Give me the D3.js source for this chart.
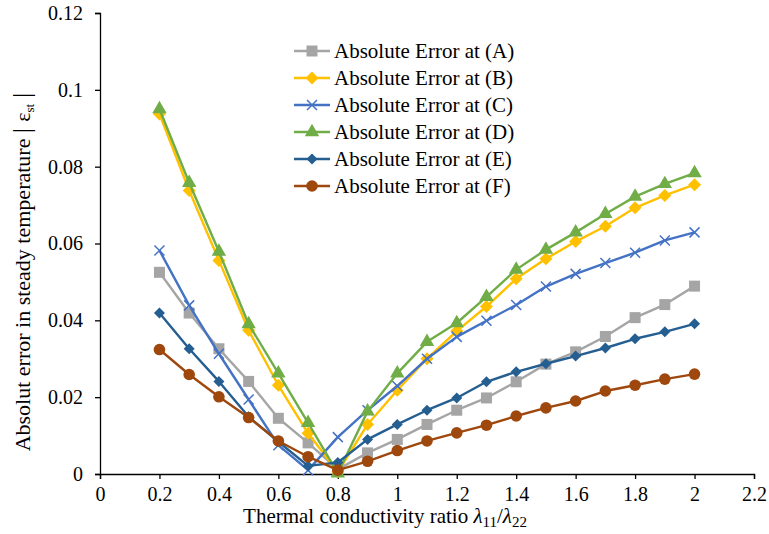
<!DOCTYPE html>
<html lang="en">
<head>
<meta charset="UTF-8">
<title>Absolute error chart</title>
<style>
    body { margin: 0; background: #fff; }
</style>
</head>
<body>
<svg id="chart" width="769" height="534"></svg>
<script src="https://d3js.org/d3.v7.min.js"></script>
<script>
// ratio values along the x axis
const ratios = [0.2, 0.3, 0.4, 0.5, 0.6, 0.7, 0.8, 0.9, 1.0, 1.1, 1.2, 1.3, 1.4, 1.5, 1.6, 1.7, 1.8, 1.9, 2.0];

const errA = [0.0525, 0.0419, 0.0326, 0.0241, 0.0145, 0.0081, 0.0012, 0.0055, 0.0090, 0.0129, 0.0166, 0.0198, 0.0240, 0.0286, 0.0318, 0.0358, 0.0407, 0.0441, 0.0489];
const errB = [0.0937, 0.0738, 0.0556, 0.0374, 0.0231, 0.0106, 0.0005, 0.0129, 0.0218, 0.0300, 0.0372, 0.0436, 0.0508, 0.0560, 0.0605, 0.0645, 0.0693, 0.0725, 0.0753];
const errC = [0.0582, 0.0439, 0.0313, 0.0194, 0.0075, 0.0010, 0.0096, 0.0166, 0.0229, 0.0300, 0.0357, 0.0399, 0.0440, 0.0488, 0.0521, 0.0549, 0.0576, 0.0608, 0.0629];
const errD = [0.0950, 0.0758, 0.0579, 0.0390, 0.0262, 0.0133, 0.0002, 0.0163, 0.0262, 0.0344, 0.0393, 0.0461, 0.0532, 0.0584, 0.0629, 0.0677, 0.0722, 0.0755, 0.0783];
const errE = [0.0419, 0.0326, 0.0241, 0.0149, 0.0084, 0.0021, 0.0030, 0.0090, 0.0129, 0.0166, 0.0198, 0.0240, 0.0266, 0.0287, 0.0307, 0.0328, 0.0352, 0.0370, 0.0391];
const errF = [0.0324, 0.0259, 0.0201, 0.0147, 0.0086, 0.0045, 0.0010, 0.0033, 0.0061, 0.0086, 0.0107, 0.0127, 0.0151, 0.0172, 0.0190, 0.0216, 0.0231, 0.0247, 0.0260];

const seriesNames = ["Absolute Error at (A)", "Absolute Error at (B)", "Absolute Error at (C)",
    "Absolute Error at (D)", "Absolute Error at (E)", "Absolute Error at (F)"];

const xTicks = [0, 0.2, 0.4, 0.6, 0.8, 1, 1.2, 1.4, 1.6, 1.8, 2, 2.2];
const yTicks = [0, 0.02, 0.04, 0.06, 0.08, 0.1, 0.12];

const series = [
    { name: seriesNames[0], values: errA, color: "#A5A5A5", marker: "square" },
    { name: seriesNames[1], values: errB, color: "#FFC000", marker: "diamond" },
    { name: seriesNames[2], values: errC, color: "#4472C4", marker: "cross" },
    { name: seriesNames[3], values: errD, color: "#70AD47", marker: "triangle" },
    { name: seriesNames[4], values: errE, color: "#255E91", marker: "diamondSmall" },
    { name: seriesNames[5], values: errF, color: "#9E480E", marker: "circle" }
];

const FONT = "'Liberation Serif'";

const svg = d3.select("#chart");
const margin = { left: 100, right: 15, top: 13, bottom: 60 };
const W = 769, H = 534;

const x = d3.scaleLinear().domain([0, 2.2]).range([margin.left, W - margin.right]);
const y = d3.scaleLinear().domain([0, 0.12]).range([H - margin.bottom, margin.top]);

// axes
const xAxis = svg.append("g")
    .attr("transform", `translate(0,${y(0)})`)
    .call(d3.axisBottom(x).tickValues(xTicks).tickFormat(d3.format("~g")).tickSizeOuter(0).tickSize(5).tickPadding(8));
const yAxis = svg.append("g")
    .attr("transform", `translate(${x(0)},0)`)
    .call(d3.axisLeft(y).tickValues(yTicks).tickFormat(d3.format("~g")).tickSizeOuter(0).tickSize(5).tickPadding(12));

[xAxis, yAxis].forEach(a => {
    a.selectAll("text").style("font-family", FONT).style("font-size", "20px").attr("fill", "#000");
    a.selectAll("path, line").attr("stroke", "#000").attr("stroke-width", 1.3);
});

// axis titles
const xt = svg.append("text")
    .attr("x", 385)
    .attr("y", 523)
    .attr("text-anchor", "middle")
    .style("font-family", FONT)
    .style("font-size", "21px");
xt.append("tspan").text("Thermal conductivity ratio ");
xt.append("tspan").attr("font-style", "italic").text("λ");
xt.append("tspan").attr("dy", 4).style("font-size", "15px").text("11");
xt.append("tspan").attr("dy", -4).text("/");
xt.append("tspan").attr("font-style", "italic").text("λ");
xt.append("tspan").attr("dy", 4).style("font-size", "15px").text("22");

const yt = svg.append("text")
    .attr("transform", "translate(30,272) rotate(-90)")
    .attr("text-anchor", "middle")
    .style("font-family", FONT)
    .style("font-size", "22px");
yt.append("tspan").text("Absolut error in steady temperature ");
yt.append("tspan").style("font-size", "25px").text("| ");
yt.append("tspan").text("ε");
yt.append("tspan").attr("dy", 4).style("font-size", "13px").text("st");
yt.append("tspan").attr("dy", -4).style("font-size", "25px").text(" |");

// marker drawing
function drawMarker(g, type, color) {
    if (type === "square") {
        g.append("rect").attr("x", -5.5).attr("y", -5.5).attr("width", 11).attr("height", 11).attr("fill", color);
    } else if (type === "diamond") {
        g.append("path").attr("d", "M0,-6.5L6.5,0L0,6.5L-6.5,0Z").attr("fill", color);
    } else if (type === "diamondSmall") {
        g.append("path").attr("d", "M0,-5.5L5.5,0L0,5.5L-5.5,0Z").attr("fill", color);
    } else if (type === "cross") {
        g.append("path").attr("d", "M-5,-5L5,5M-5,5L5,-5").attr("stroke", color).attr("stroke-width", 1.5).attr("fill", "none");
    } else if (type === "triangle") {
        g.append("path").attr("d", d3.symbol(d3.symbolTriangle, 90)()).attr("fill", color);
    } else if (type === "circle") {
        g.append("circle").attr("r", 5.8).attr("fill", color);
    }
}

const line = d3.line().x((d, i) => x(ratios[i])).y(d => y(d));

series.forEach(s => {
    const g = svg.append("g");
    g.append("path")
        .datum(s.values)
        .attr("d", line)
        .attr("fill", "none")
        .attr("stroke", s.color)
        .attr("stroke-width", 2.4)
        .attr("stroke-linejoin", "round");
    s.values.forEach((v, i) => {
        const m = g.append("g").attr("transform", `translate(${x(ratios[i])},${y(v)})`);
        drawMarker(m, s.marker, s.color);
    });
});

// legend
const legend = svg.append("g").attr("transform", "translate(294,51)");
series.forEach((s, i) => {
    const row = legend.append("g").attr("transform", `translate(0,${i * 27})`);
    row.append("line").attr("x1", 0).attr("x2", 36).attr("stroke", s.color).attr("stroke-width", 2.4);
    const m = row.append("g").attr("transform", "translate(18,0)");
    drawMarker(m, s.marker, s.color);
    row.append("text").attr("x", 40).attr("y", 7)
        .style("font-family", FONT).style("font-size", "21px").text(s.name);
});
</script>
</body>
</html>
